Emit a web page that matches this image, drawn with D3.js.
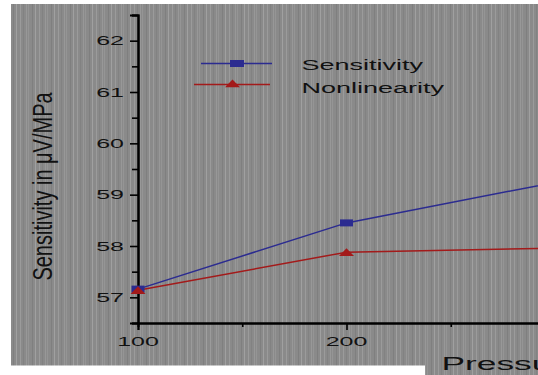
<!DOCTYPE html>
<html>
<head>
<meta charset="utf-8">
<script src="https://cdn.jsdelivr.net/npm/d3@7"></script>
<style>
  html, body { margin: 0; padding: 0; background: #fff; overflow: hidden; }
  text { font-family: "Liberation Sans", Arial, sans-serif; fill: #111; }
</style>
</head>
<body>
<svg id="chart"></svg>
<script>
// data
const pressure = [100, 200, 300];
const sensitivity = [57.16, 58.45, 59.24];
const nonlinearity = [57.14, 57.88, 57.96];
const seriesNames = ['Sensitivity', 'Nonlinearity'];

const xTicks = [100, 200];
const xMinorTicks = [150, 250];
const yTicks = [57, 58, 59, 60, 61, 62];
const yMinorTicks = [56.5, 57.5, 58.5, 59.5, 60.5, 61.5, 62.5];

const width = 538, height = 375;
const blue = '#2b2b90', red = '#a31a1a';

const svg = d3.select('#chart')
  .attr('width', width)
  .attr('height', height);

// striped grey backdrop
const defs = svg.append('defs');
const pat = defs.append('pattern')
  .attr('id', 'stripes')
  .attr('patternUnits', 'userSpaceOnUse')
  .attr('width', 19).attr('height', 10);
pat.append('rect').attr('width', 19).attr('height', 10).attr('fill', '#8a8a8a');
[[1, '#9b9b9b'], [4, '#828282'], [7, '#989898'], [9, '#959595'], [13, '#7f7f7f'], [16, '#a0a0a0']]
  .forEach(([px, c]) => pat.append('rect').attr('x', px).attr('width', 1).attr('height', 10).attr('fill', c));

svg.append('rect')
  .attr('x', 11).attr('y', 4)
  .attr('width', width - 11).attr('height', height - 4)
  .attr('fill', 'url(#stripes)');
// the grey stops a little short of the bottom on the left side
svg.append('rect')
  .attr('x', 0).attr('y', 365.5)
  .attr('width', 425).attr('height', 10)
  .attr('fill', '#fff');

const x = d3.scaleLinear().domain([100, 300]).range([138, 555]);
const y = d3.scaleLinear().domain([56.5, 62.5]).range([323, 15]);

// y axis
svg.append('g')
  .attr('transform', `translate(${x(100)},0)`)
  .call(d3.axisLeft(y).tickValues(yTicks).tickSize(8).tickFormat(''));
svg.append('g')
  .attr('transform', `translate(${x(100)},0)`)
  .call(d3.axisLeft(y).tickValues(yMinorTicks).tickSize(6).tickFormat(''));

// x axis
svg.append('g')
  .attr('transform', `translate(0,${y(56.5)})`)
  .call(d3.axisBottom(x).tickValues(xTicks).tickSize(7).tickFormat(''));
svg.append('g')
  .attr('transform', `translate(0,${y(56.5)})`)
  .call(d3.axisBottom(x).tickValues(xMinorTicks).tickSize(4).tickFormat(''));

svg.selectAll('.domain').attr('stroke', '#000').attr('stroke-width', 2);
svg.selectAll('.tick line').attr('stroke', '#000').attr('stroke-width', 1.6);

// tick labels (stretched wide like the source image)
svg.append('g').selectAll('text')
  .data(yTicks)
  .join('text')
  .attr('transform', d => `translate(${x(100) - 14},${y(d) + 4.5}) scale(2,1)`)
  .attr('text-anchor', 'end')
  .attr('font-size', 12.5)
  .text(d => d);

svg.append('g').selectAll('text')
  .data(xTicks)
  .join('text')
  .attr('transform', d => `translate(${x(d)},${y(56.5) + 22.5}) scale(2,1)`)
  .attr('text-anchor', 'middle')
  .attr('font-size', 12.5)
  .text(d => d);

// axis titles
svg.append('text')
  .attr('transform', 'translate(51.5,186.5) rotate(-90) scale(1,1.4)')
  .attr('text-anchor', 'middle')
  .attr('font-size', 20)
  .text('Sensitivity in μV/MPa');

svg.append('text')
  .attr('transform', 'translate(441.5,369.5) scale(1.9,1)')
  .attr('font-size', 18.6)
  .text('Pressure');

// lines
const line = vals => d3.line()
  .x((d, i) => x(pressure[i]))
  .y(d => y(d))(vals);

svg.append('path')
  .attr('d', line(sensitivity))
  .attr('fill', 'none').attr('stroke', blue).attr('stroke-width', 1.5);
svg.append('path')
  .attr('d', line(nonlinearity))
  .attr('fill', 'none').attr('stroke', red).attr('stroke-width', 1.5);

const tri = (cx, cy) => `M${cx - 7.5},${cy + 3.8}L${cx},${cy - 4}L${cx + 7.5},${cy + 3.8}Z`;

svg.append('g').selectAll('rect')
  .data(sensitivity)
  .join('rect')
  .attr('x', (d, i) => x(pressure[i]) - 6.5)
  .attr('y', d => y(d) - 3.5)
  .attr('width', 13).attr('height', 7)
  .attr('fill', blue);

svg.append('g').selectAll('path')
  .data(nonlinearity)
  .join('path')
  .attr('d', (d, i) => tri(x(pressure[i]), y(d)))
  .attr('fill', red);

// legend
const legend = svg.append('g');
legend.append('line')
  .attr('x1', 201).attr('x2', 272).attr('y1', 63.5).attr('y2', 63.5)
  .attr('stroke', blue).attr('stroke-width', 1.5);
legend.append('rect')
  .attr('x', 230).attr('y', 60).attr('width', 14).attr('height', 7)
  .attr('fill', blue);
legend.append('line')
  .attr('x1', 194).attr('x2', 270).attr('y1', 84.5).attr('y2', 84.5)
  .attr('stroke', red).attr('stroke-width', 1.5);
legend.append('path')
  .attr('d', tri(232.5, 83.5))
  .attr('fill', red);

legend.selectAll('text')
  .data(seriesNames)
  .join('text')
  .attr('transform', (d, i) => `translate(301.5,${69.5 + i * 23}) scale(1.8,1)`)
  .attr('font-size', 15)
  .text(d => d);
</script>
</body>
</html>
